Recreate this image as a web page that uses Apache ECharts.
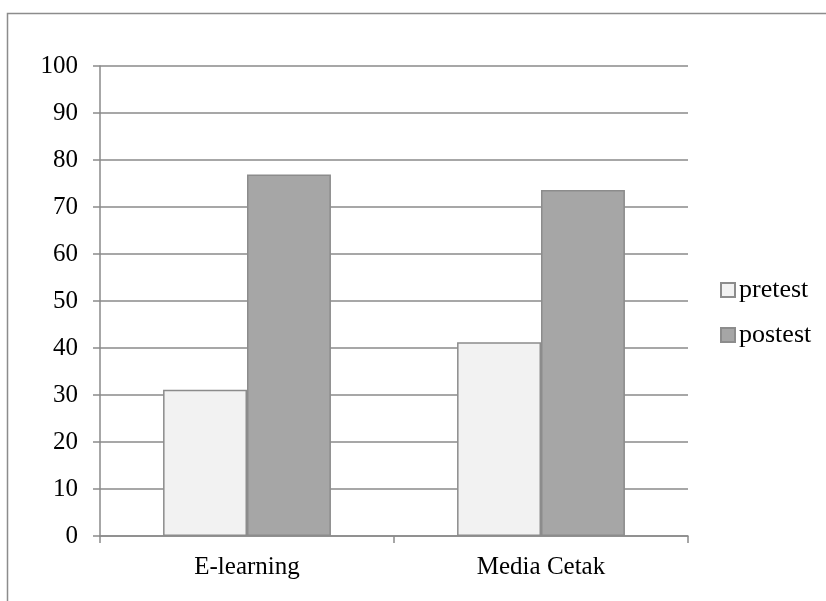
<!DOCTYPE html>
<html>
<head>
<meta charset="utf-8">
<script src="https://cdn.jsdelivr.net/npm/echarts@6/dist/echarts.min.js"></script>
<style>html,body{margin:0;padding:0;background:#fff}#c{width:826px;height:601px}</style>
</head>
<body>
<div id="c"></div>
<script>
const categories = ['E-learning', 'Media Cetak'];
const pretest = [31.1, 41.2];
const postest = [76.9, 73.6];
const yTicks = [0, 10, 20, 30, 40, 50, 60, 70, 80, 90, 100];

const chart = echarts.init(document.getElementById('c'));
const font = 'Liberation Serif, Times New Roman, serif';
chart.setOption({
  animation: false,
  backgroundColor: '#fff',
  graphic: [{
    type: 'rect', shape: { x: 7.5, y: 13.5, width: 900, height: 700 },
    style: { fill: 'none', stroke: '#8c8c8c', lineWidth: 1.5 }, silent: true
  }],
  grid: { left: 100, right: 138, top: 66, bottom: 65 },
  legend: {
    orient: 'vertical', left: 715, top: 272, itemGap: 19,
    itemWidth: 14, itemHeight: 14, icon: 'rect',
    textStyle: { fontFamily: font, fontSize: 26, color: '#000', padding: [0, 0, 0, -1] },
    data: ['pretest', 'postest']
  },
  xAxis: {
    type: 'category', data: categories,
    axisLine: { lineStyle: { color: '#8a8a8a', width: 1.5 } },
    axisTick: { show: true, length: 7, lineStyle: { color: '#8a8a8a', width: 1.5 } },
    axisLabel: { fontFamily: font, fontSize: 25, color: '#000', margin: 19 }
  },
  yAxis: {
    type: 'value', min: 0, max: 100, interval: 10,
    axisLine: { show: true, lineStyle: { color: '#8a8a8a', width: 1.5 } },
    axisTick: { show: true, length: 7, lineStyle: { color: '#8a8a8a', width: 1.5 } },
    splitLine: { lineStyle: { color: '#8a8a8a', width: 1.5 } },
    axisLabel: { fontFamily: font, fontSize: 25, color: '#000', margin: 22,
      formatter: v => yTicks.includes(v) ? String(v) : '' }
  },
  series: [
    { name: 'pretest', type: 'bar', data: pretest, barGap: '0%', barCategoryGap: '42.9%',
      itemStyle: { color: '#f2f2f2', borderColor: '#8c8c8c', borderWidth: 1.5 } },
    { name: 'postest', type: 'bar', data: postest, barGap: '0%', barCategoryGap: '42.9%',
      itemStyle: { color: '#a6a6a6', borderColor: '#8c8c8c', borderWidth: 1.5 } }
  ]
});
</script>
</body>
</html>
